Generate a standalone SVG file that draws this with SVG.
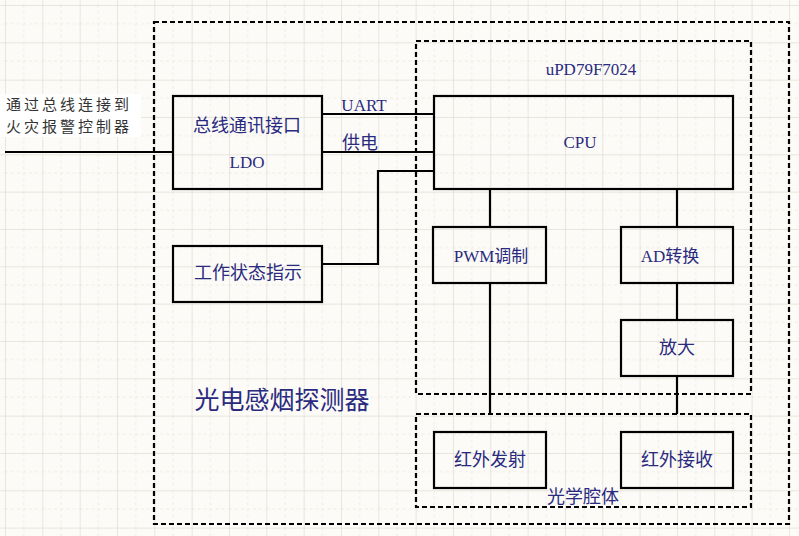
<svg xmlns="http://www.w3.org/2000/svg" width="799" height="536" viewBox="0 0 799 536">
<style>
.box{fill:none;stroke:#000;stroke-width:2.2}
.dash{fill:none;stroke:#000;stroke-width:2.2;stroke-dasharray:5 3}
.wire{fill:none;stroke:#000;stroke-width:2.2}
.t{font-family:"Liberation Serif","Noto Sans CJK SC",serif;fill:#2a2a80;text-anchor:middle}
.lat{font-size:17px}
.cjk{font-size:18px}
.left{font-family:"Noto Sans CJK SC","Liberation Sans",sans-serif;font-size:15px;letter-spacing:3px;fill:#333}
</style>
<defs>
<pattern id="grid" x="5" y="5" width="37.33" height="37.33" patternUnits="userSpaceOnUse">
<path d="M18.67 0V37.33M0 18.67H37.33" stroke="#eeebe3" stroke-width="1" stroke-dasharray="3 3" fill="none"/>
<path d="M0.5 0V37.33M0 0.5H37.33" stroke="#e8e5dc" stroke-width="1" fill="none"/>
</pattern>
</defs>
<rect width="799" height="536" fill="#fcfbf7"/>
<rect width="799" height="536" fill="url(#grid)"/>

<g id="outer">
<rect class="dash" x="154" y="22" width="635" height="502"/>
<text class="t" x="282" y="409" style="font-size:25px">光电感烟探测器</text>
</g>
<g id="mcu">
<rect class="dash" x="416" y="41" width="335" height="353"/>
<text class="t" x="591" y="75" style="font-size:17px">uPD79F7024</text>
</g>
<g id="cavity">
<rect class="dash" x="416" y="414" width="335" height="93"/>
<text class="t cjk" x="583" y="503">光学腔体</text>
</g>

<g id="input-label">
<rect x="0" y="94" width="141" height="43" fill="#fff"/>
<text class="left" x="6" y="110">通过总线连接到</text>
<text class="left" x="6" y="132">火灾报警控制器</text>
</g>

<g id="connectors">
<path class="wire" d="M5 152H173"/>
<path class="wire" d="M322 114H434"/>
<path class="wire" d="M322 152H434"/>
<path class="wire" d="M434 171H378V264H322"/>
<path class="wire" d="M490 189V227"/>
<path class="wire" d="M490 283V414"/>
<path class="wire" d="M677 189V227"/>
<path class="wire" d="M677 283V320"/>
<path class="wire" d="M677 376V414"/>
<text class="t lat" x="364" y="111">UART</text>
<text class="t cjk" x="360" y="149">供电</text>
</g>

<g id="bus">
<rect class="box" x="173" y="96" width="149" height="93"/>
<text class="t cjk" x="247" y="132">总线通讯接口</text>
<text class="t lat" x="247" y="168">LDO</text>
</g>
<g id="status">
<rect class="box" x="173" y="246" width="149" height="56"/>
<text class="t cjk" x="248" y="279">工作状态指示</text>
</g>
<g id="cpu">
<rect class="box" x="434" y="96" width="299" height="93"/>
<text class="t lat" x="580" y="148">CPU</text>
</g>
<g id="pwm">
<rect class="box" x="433" y="227" width="113" height="56"/>
<text class="t" x="491" y="262" style="font-size:17px">PWM调制</text>
</g>
<g id="ad">
<rect class="box" x="621" y="227" width="112" height="56"/>
<text class="t" x="670" y="262" style="font-size:17px">AD转换</text>
</g>
<g id="amp">
<rect class="box" x="621" y="320" width="112" height="56"/>
<text class="t cjk" x="677" y="354">放大</text>
</g>
<g id="ir-tx">
<rect class="box" x="434" y="432" width="112" height="56"/>
<text class="t cjk" x="490" y="466">红外发射</text>
</g>
<g id="ir-rx">
<rect class="box" x="621" y="432" width="112" height="56"/>
<text class="t cjk" x="677" y="466">红外接收</text>
</g>
</svg>
